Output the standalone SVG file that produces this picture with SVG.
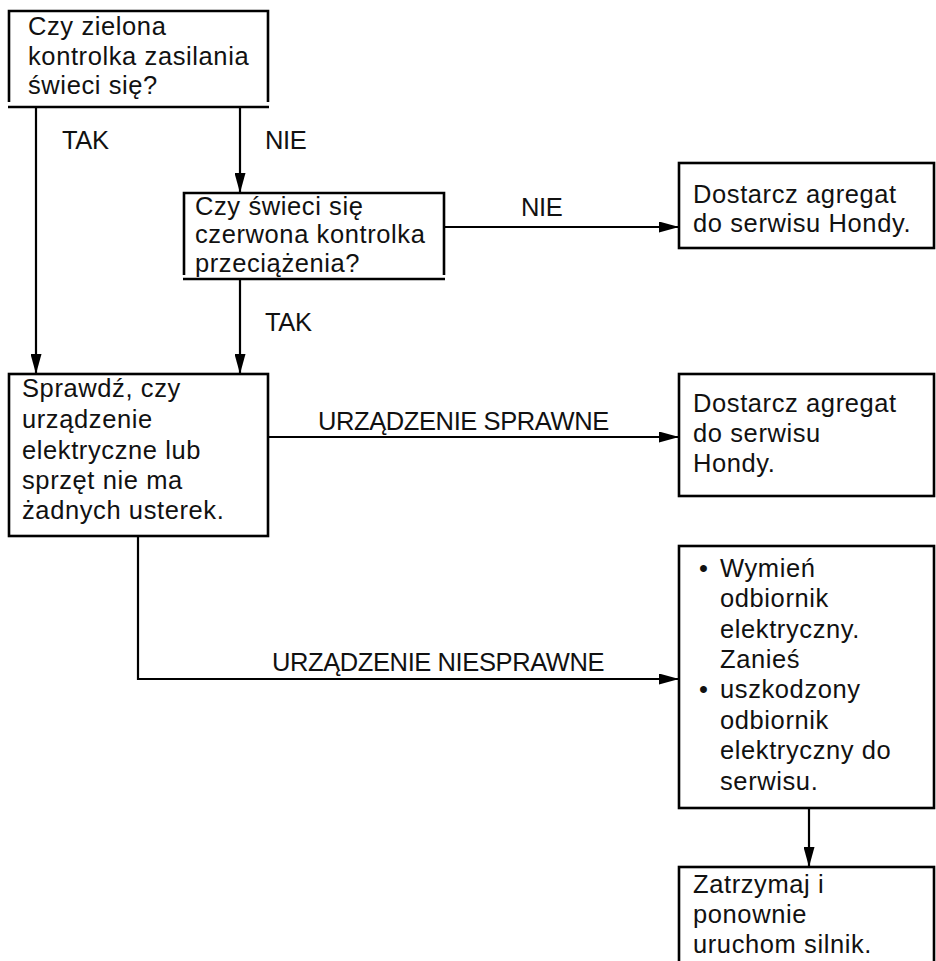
<svg xmlns="http://www.w3.org/2000/svg" width="936" height="961" viewBox="0 0 936 961">
  <style>
    .box { fill: #fff; stroke: #000; stroke-width: 2.6; }
    .edge { fill: none; stroke: #000; stroke-width: 2.6; }
    .t { font-family: "Liberation Sans", Arial, sans-serif; font-size: 25.5px; letter-spacing: 0.6px; fill: #111; }
    .t.cap { letter-spacing: -0.4px; }
    .wire { fill: none; stroke: #000; stroke-width: 2.2; }
  </style>
  <defs>
    <marker id="arrow" markerUnits="userSpaceOnUse" markerWidth="20" markerHeight="11" refX="20" refY="5.5" orient="auto">
      <path d="M0,0 L20,5.5 L0,11 z" fill="#000"/>
    </marker>
  </defs>
  <rect width="936" height="961" fill="#fff"/>

  <!-- connectors and their labels -->
  <g id="connectors">
    <line class="wire" x1="36" y1="107" x2="36" y2="374" marker-end="url(#arrow)"/>
    <line class="wire" x1="240" y1="107" x2="240" y2="193" marker-end="url(#arrow)"/>
    <line class="wire" x1="444" y1="227" x2="679" y2="227" marker-end="url(#arrow)"/>
    <line class="wire" x1="240" y1="279" x2="240" y2="374" marker-end="url(#arrow)"/>
    <line class="wire" x1="268" y1="437" x2="679" y2="437" marker-end="url(#arrow)"/>
    <path class="wire" d="M138,536 V679 H679" marker-end="url(#arrow)"/>
    <line class="wire" x1="809" y1="808" x2="809" y2="867" marker-end="url(#arrow)"/>
    <text class="t cap" x="62" y="149">TAK</text>
    <text class="t cap" x="265" y="149">NIE</text>
    <text class="t cap" x="521" y="216">NIE</text>
    <text class="t cap" x="265" y="331">TAK</text>
    <text class="t cap" x="318" y="430">URZĄDZENIE SPRAWNE</text>
    <text class="t cap" x="272" y="671">URZĄDZENIE NIESPRAWNE</text>
  </g>

  <!-- decision: green power lamp -->
  <g id="n1">
    <path class="edge" d="M9,102 V11 H268 V102"/>
    <line class="edge" x1="8" y1="107" x2="269" y2="107"/>
    <text class="t"><tspan x="28" y="35">Czy zielona</tspan><tspan x="28" y="65">kontrolka zasilania</tspan><tspan x="28" y="94">świeci się?</tspan></text>
  </g>

  <!-- decision: red overload lamp -->
  <g id="n2">
    <path class="edge" d="M184,275 V193 H444 V275"/>
    <line class="edge" x1="183" y1="279" x2="445" y2="279"/>
    <text class="t"><tspan x="195" y="214.5">Czy świeci się</tspan><tspan x="195" y="243">czerwona kontrolka</tspan><tspan x="195" y="271.5">przeciążenia?</tspan></text>
  </g>

  <g id="n3">
    <rect class="box" x="9" y="374" width="259" height="162"/>
    <text class="t"><tspan x="22" y="397">Sprawdź, czy</tspan><tspan x="22" y="428">urządzenie</tspan><tspan x="22" y="459">elektryczne lub</tspan><tspan x="22" y="489">sprzęt nie ma</tspan><tspan x="22" y="519">żadnych usterek.</tspan></text>
  </g>

  <g id="n4">
    <rect class="box" x="679" y="163" width="255" height="85"/>
    <text class="t"><tspan x="693" y="203">Dostarcz agregat</tspan><tspan x="693" y="232">do serwisu Hondy.</tspan></text>
  </g>

  <g id="n5">
    <rect class="box" x="679" y="374" width="255" height="122"/>
    <text class="t"><tspan x="693" y="412">Dostarcz agregat</tspan><tspan x="693" y="442">do serwisu</tspan><tspan x="693" y="472">Hondy.</tspan></text>
  </g>

  <g id="n6">
    <rect class="box" x="679" y="546" width="255" height="262"/>
    <text class="t"><tspan x="699" y="577">•</tspan><tspan x="720" y="577">Wymień</tspan><tspan x="720" y="607">odbiornik</tspan><tspan x="720" y="638">elektryczny.</tspan><tspan x="720" y="668">Zanieś</tspan><tspan x="699" y="698">•</tspan><tspan x="720" y="698">uszkodzony</tspan><tspan x="720" y="729">odbiornik</tspan><tspan x="720" y="759">elektryczny do</tspan><tspan x="720" y="790">serwisu.</tspan></text>
  </g>

  <!-- box continues past the bottom edge -->
  <g id="n7">
    <rect class="box" x="679" y="867" width="255" height="120"/>
    <text class="t"><tspan x="693" y="893">Zatrzymaj i</tspan><tspan x="693" y="923">ponownie</tspan><tspan x="693" y="953">uruchom silnik.</tspan></text>
  </g>
</svg>
